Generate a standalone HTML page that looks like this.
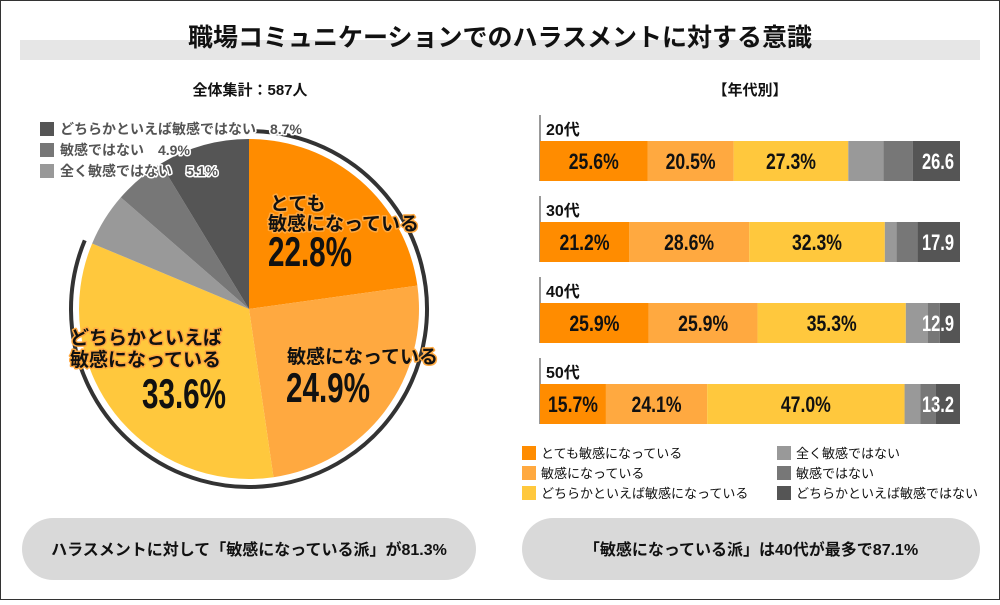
<!DOCTYPE html>
<html><head><meta charset="utf-8"><style>
body{margin:0;width:1000px;height:600px;background:#fff;overflow:hidden;font-family:"Liberation Sans","Noto Sans CJK JP",sans-serif}
svg text{font-family:"Liberation Sans","Noto Sans CJK JP",sans-serif}
</style></head><body>
<svg id="c" width="1000" height="600">
<rect x="0.5" y="0.5" width="999" height="599" fill="#fff" stroke="#333" stroke-width="1"/>
<rect x="20" y="40" width="960" height="20" fill="#e6e6e6"/>
<text x="500" y="46" text-anchor="middle" font-size="25" font-weight="bold" fill="#111">職場コミュニケーションでのハラスメントに対する意識</text>
<text x="250" y="95" text-anchor="middle" font-size="15" font-weight="bold" fill="#111">全体集計：587人</text>
<text x="750" y="95" text-anchor="middle" font-size="15" font-weight="bold" fill="#111">【年代別】</text>
<g id="pie"></g><g id="bars"></g><g id="legend"></g>
<rect x="22" y="518" width="454" height="62" rx="31" fill="#d9d9d9"/>
<text x="249" y="555" text-anchor="middle" font-size="16" font-weight="bold" fill="#111">ハラスメントに対して「敏感になっている派」が81.3%</text>
<rect x="522" y="518" width="458" height="62" rx="31" fill="#d9d9d9"/>
<text x="751" y="555" text-anchor="middle" font-size="16" font-weight="bold" fill="#111">「敏感になっている派」は40代が最多で87.1%</text>
</svg>
<script>
const NS="http://www.w3.org/2000/svg";
const categories=["とても敏感になっている","敏感になっている","どちらかといえば敏感になっている","全く敏感ではない","敏感ではない","どちらかといえば敏感ではない"];
const colors=["#ff8c00","#ffa940","#ffc83d","#999999","#777777","#555555"];
const pieValues=[22.8,24.9,33.6,5.1,4.9,8.7];
const ages=["20代","30代","40代","50代"];
const v20=[25.6,20.5,27.3,8.4,7.0,11.2];
const v30=[21.2,28.6,32.3,2.8,5.0,10.1];
const v40=[25.9,25.9,35.3,5.2,2.9,4.8];
const v50=[15.7,24.1,47.0,3.8,3.6,5.8];
const negTotals=["26.6","17.9","12.9","13.2"];
function mk(t,a,p){const e=document.createElementNS(NS,t);for(const k in a)e.setAttribute(k,a[k]);(p||document.getElementById('c')).appendChild(e);return e;}
const pie=document.getElementById('pie');
const cx=249,cy=309,r=170;
const tot=pieValues.reduce((a,b)=>a+b,0);
let ang=0;
pieValues.forEach((v,i)=>{
  const a0=ang/tot*2*Math.PI, a1=(ang+v)/tot*2*Math.PI; ang+=v;
  const x0=cx+r*Math.sin(a0),y0=cy-r*Math.cos(a0),x1=cx+r*Math.sin(a1),y1=cy-r*Math.cos(a1);
  const s=mk('path',{d:`M${cx},${cy}L${x0},${y0}A${r},${r} 0 ${a1-a0>Math.PI?1:0} 1 ${x1},${y1}Z`,fill:colors[i]},pie);
  
  
});
{const pos=pieValues[0]+pieValues[1]+pieValues[2];const R=178;
const a0=0.03,a1=pos/tot*2*Math.PI;
const ring=mk('path',{d:`M${cx+R*Math.sin(a0)},${cy-R*Math.cos(a0)}A${R},${R} 0 1 1 ${cx+R*Math.sin(a1)},${cy-R*Math.cos(a1)}`,fill:'none',stroke:'#333','stroke-width':4},pie);

}
function lab(x,y,txt,size,anchor,name,len){const a={x:x,y:y,'font-size':size,'font-weight':'bold','text-anchor':anchor||'start',fill:'#111',stroke:'#ffa940','stroke-width':3,'stroke-linejoin':'round','paint-order':'stroke'};if(len){a.textLength=len;a.lengthAdjust='spacingAndGlyphs';a.stroke='none';}const t=mk('text',a,pie);t.textContent=txt;return t;}
lab(270,210,'とても',19,'start','pie-label-1a');
lab(268,230,'敏感になっている',19,'start','pie-label-1b');
lab(268,266,pieValues[0].toFixed(1)+'%',42,'start','pie-value-1',84);
lab(287,363,'敏感になっている',19,'start','pie-label-2');
lab(286,402,pieValues[1].toFixed(1)+'%',42,'start','pie-value-2',84);
lab(70,344,'どちらかといえば',19,'start','pie-label-3a');
lab(70,366,'敏感になっている',19,'start','pie-label-3b');
lab(226,408,pieValues[2].toFixed(1)+'%',42,'end','pie-value-3',84);
[[5,8.7],[4,4.9],[3,5.1]].forEach((p,j)=>{const i=p[0];const y=122+j*21;
 const r1=mk('rect',{x:40,y:y,width:14,height:14,fill:colors[i]},pie);
 
 
 const t=mk('text',{x:60,y:y+12,'font-size':14,'font-weight':'bold',fill:'#555',stroke:'#fff','stroke-width':3,'stroke-linejoin':'round','paint-order':'stroke'},pie);
 t.textContent=categories[i]+'　'+pieValues[i].toFixed(1)+'%';
 
 });
const bars=document.getElementById('bars');
const bx0=540,bw=420;const xs=v=>v/100*bw;
[v20,v30,v40,v50].forEach((vals,k)=>{
  const y=141+k*81;
  const ln=mk('line',{x1:bx0,y1:y-26,x2:bx0,y2:y+40,stroke:'#999','stroke-width':2},bars);
  
  
  const al=mk('text',{x:bx0+6,y:y-6,'font-size':16,'font-weight':'bold',fill:'#111'},bars);al.textContent=ages[k];
  
  
  let x=bx0;
  vals.forEach((v,i)=>{const w=xs(v);
    const r=mk('rect',{x:x,y:y,width:w,height:40,fill:colors[i]},bars);
    
    
    if(i<3){const t=mk('text',{x:x+w/2,y:y+28,'text-anchor':'middle','font-size':22,'font-weight':'bold',fill:'#111',textLength:50,lengthAdjust:'spacingAndGlyphs'},bars);t.textContent=v.toFixed(1)+'%';
      
      }
    x+=w;});
  const t=mk('text',{x:bx0+bw-22,y:y+28,'text-anchor':'middle','font-size':22,'font-weight':'bold',fill:'#fff',textLength:32,lengthAdjust:'spacingAndGlyphs'},bars);t.textContent=negTotals[k];
  
  
});
const lg=document.getElementById('legend');
categories.forEach((c,i)=>{const col=i<3?0:1;const row=i%3;const x=col?777:522,y=446+row*20;
 const r=mk('rect',{x:x,y:y,width:14,height:14,fill:colors[i]},lg);
 
 
 const t=mk('text',{x:x+19,y:y+12,'font-size':13,fill:'#111'},lg);t.textContent=c;
 
 });
</script>
</body></html>
